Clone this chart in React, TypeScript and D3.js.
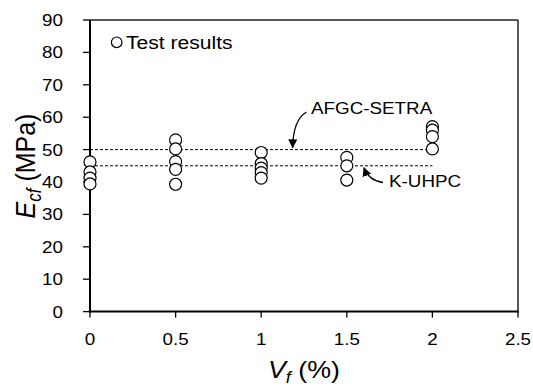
import React from "react";
import * as d3 from "d3";

// fibre volume fraction (%) and measured elastic modulus (MPa)
const testVf = [0, 0, 0, 0, 0.5, 0.5, 0.5, 0.5, 0.5, 1, 1, 1, 1, 1, 1.5, 1.5, 1.5, 2, 2, 2, 2];
const testEcf = [46.2, 43.1, 41.2, 39.4, 53, 50.2, 46.3, 43.9, 39.3, 49.1, 45.7, 44.3, 42.9, 41.2, 47.6, 45, 40.6, 57.1, 56, 54, 50.2];

const xTicks = [0, 0.5, 1, 1.5, 2, 2.5];
const yTicks = [0, 10, 20, 30, 40, 50, 60, 70, 80, 90];

// design code predictions
const codeNames = ["AFGC-SETRA", "K-UHPC"];
const codeValues = [50, 45];
const codeRange = [0, 2];

const W = 533;
const H = 387;
const margin = { top: 20, right: 15, bottom: 75.4, left: 90 };
const font = "'Liberation Sans', Arial, sans-serif";
const SX = 1.14; // the source glyphs are a bit wider than plain Arial

function Txt({ x, y, size, anchor = "start", dy = "0", children }: any) {
  return (
    <text
      transform={`translate(${x},${y}) scale(${SX},1)`}
      fontSize={size}
      textAnchor={anchor}
      dy={dy}
    >
      {children}
    </text>
  );
}

export default function App() {
  const x = d3.scaleLinear().domain([0, 2.5]).range([margin.left, W - margin.right]);
  const y = d3.scaleLinear().domain([0, 90]).range([H - margin.bottom, margin.top]);

  const x0 = x(0);
  const x1 = x(2.5);
  const y0 = y(0);
  const y1 = y(90);

  const afgcTip = { x: 292.7, y: y(50) - 2 };
  const kTip = { x: 364, y: y(45) + 2 };

  return (
    <svg
      width={W}
      height={H}
      style={{ position: "absolute", left: 0, top: 0, background: "#fff" }}
      fontFamily={font}
    >
      <defs>
        <marker id="ah" viewBox="0 0 10 10" refX="9" refY="5" markerWidth="7" markerHeight="7" orient="auto">
          <path d="M0,0 L10,5 L0,10 z" fill="#000" />
        </marker>
      </defs>

      {/* frame */}
      <line x1={x0} x2={x1} y1={y1} y2={y1} stroke="#222" strokeWidth={1.5} />
      <line x1={x1} x2={x1} y1={y1} y2={y0} stroke="#222" strokeWidth={1.5} />
      <line x1={x0} x2={x0} y1={y1} y2={y0 + 1} stroke="#000" strokeWidth={2} />
      <line x1={x0 - 1} x2={x1 + 1} y1={y0} y2={y0} stroke="#000" strokeWidth={2} />

      {yTicks.map((t) => (
        <g key={"y" + t}>
          <line x1={x0 - 7} x2={x0} y1={y(t)} y2={y(t)} stroke="#000" strokeWidth={1.3} />
          <Txt x={63} y={y(t)} size={16.5} anchor="end" dy="0.36em">
            {t}
          </Txt>
        </g>
      ))}

      {xTicks.map((t) => (
        <g key={"x" + t}>
          <line x1={x(t)} x2={x(t)} y1={y0} y2={y0 + 6} stroke="#000" strokeWidth={1.3} />
          <Txt x={x(t)} y={344.5} size={16.5} anchor="middle">
            {t}
          </Txt>
        </g>
      ))}

      {codeValues.map((v, i) => (
        <line
          key={codeNames[i]}
          x1={x(codeRange[0])}
          x2={x(codeRange[1])}
          y1={y(v)}
          y2={y(v)}
          stroke="#000"
          strokeWidth={1}
          strokeDasharray="3,2"
        />
      ))}

      {testVf.map((v, i) => (
        <circle key={i} cx={x(v)} cy={y(testEcf[i])} r={6} fill="#fff" stroke="#000" strokeWidth={1.2} />
      ))}

      {/* annotations */}
      <path
        d={`M306.5,112 Q293,120 ${afgcTip.x},${afgcTip.y}`}
        fill="none"
        stroke="#000"
        strokeWidth={1.3}
        markerEnd="url(#ah)"
      />
      <Txt x={311} y={114} size={16.5}>
        {codeNames[0]}
      </Txt>
      <path
        d={`M383,182.5 Q369,181 ${kTip.x},${kTip.y}`}
        fill="none"
        stroke="#000"
        strokeWidth={1.3}
        markerEnd="url(#ah)"
      />
      <Txt x={389} y={187} size={16.5}>
        {codeNames[1]}
      </Txt>

      {/* legend */}
      <circle cx={116.7} cy={42.3} r={5.3} fill="#fff" stroke="#000" strokeWidth={1.2} />
      <Txt x={126} y={49} size={18.5}>
        Test results
      </Txt>

      {/* axis titles */}
      <Txt x={304} y={378} size={23.5} anchor="middle">
        <tspan fontStyle="italic">V</tspan>
        <tspan fontStyle="italic" fontSize={16} dy={5}>f</tspan>
        <tspan dy={-5}> (%)</tspan>
      </Txt>
      <text transform={`translate(35,166) rotate(-90) scale(1,${SX})`} textAnchor="middle" fontSize={25}>
        <tspan fontStyle="italic">E</tspan>
        <tspan fontStyle="italic" fontSize={17} dy={5}>cf</tspan>
        <tspan dy={-5}> (MPa)</tspan>
      </text>
    </svg>
  );
}
